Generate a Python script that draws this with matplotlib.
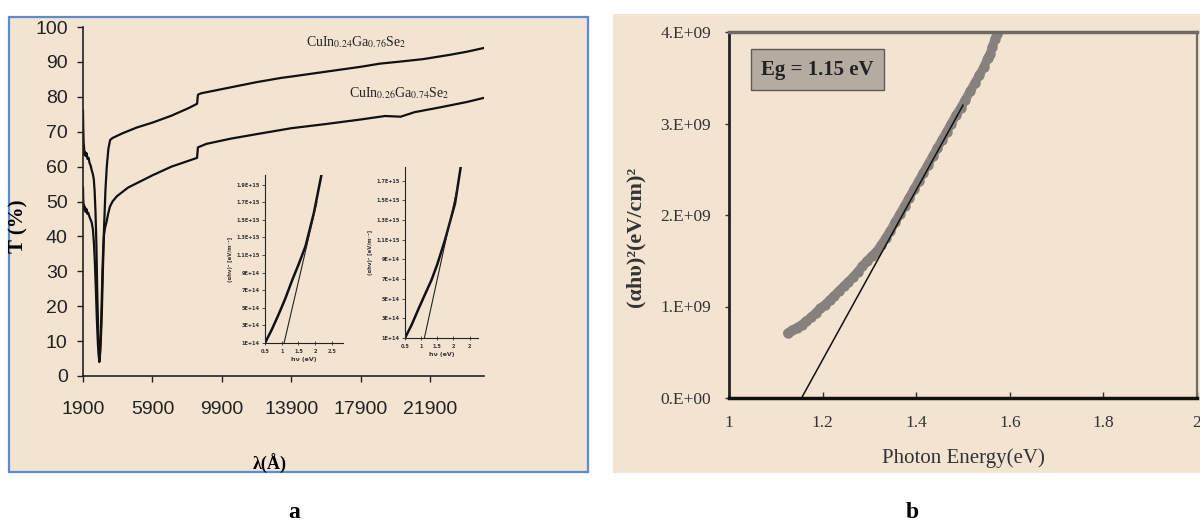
import matplotlib
matplotlib.use("Agg")
import matplotlib.pyplot as plt
from matplotlib.patches import Rectangle

# ---------------- data : panel a (transmission) ----------------
wl_upper = [1900, 1915, 1935, 1960, 1990, 2020, 2060, 2110, 2160, 2220, 2280, 2340, 2400,
            2460, 2520, 2570, 2620, 2670, 2730, 2790, 2840, 2890, 2940, 2990, 3050, 3110,
            3190, 3270, 3360, 3460, 3600, 4200, 5000, 5900, 7000, 8000, 8470, 8520, 8700,
            9900, 11900, 13300, 13900, 15900, 17900, 19000, 20000, 21500, 23000, 24000, 25000]
T_upper = [76, 71, 67, 65.5, 63.5, 64.2, 63, 63.8, 62.2, 62.5, 61, 60.3, 59,
           58, 56.5, 53, 47, 38, 22, 10, 4, 7, 12, 19, 31, 42,
           53, 60, 65, 67.6, 68.2, 69.6, 71.2, 72.6, 74.6, 76.8, 78.0, 80.6, 81.0,
           82.2, 84.2, 85.4, 85.8, 87.2, 88.6, 89.5, 90.0, 90.8, 92.0, 92.9, 94.0]

wl_lower = [1900, 1915, 1935, 1960, 1990, 2020, 2060, 2100, 2150, 2200, 2260, 2320, 2400,
            2470, 2530, 2580, 2640, 2700, 2760, 2820, 2870, 2920, 2970, 3020, 3070, 3110,
            3170, 3250, 3350, 3450, 3600, 3850, 4500, 5900, 7000, 8000, 8470, 8520, 9000,
            10400, 11900, 13900, 15900, 17900, 19300, 20200, 21000, 22500, 24000, 25000]
T_lower = [54, 50.5, 48.5, 49, 47.5, 48.3, 47, 47.8, 46.5, 46.8, 45.8, 45, 44,
           42, 38, 33, 25, 16, 9, 5, 5.5, 11, 20, 30, 37, 40.5,
           42.5, 44, 46.5, 48.5, 50, 51.5, 54, 57.5, 60, 61.7, 62.5, 65.5, 66.5,
           68, 69.3, 71, 72.2, 73.5, 74.5, 74.3, 75.6, 77, 78.5, 79.7]

a_xticks = [1900, 5900, 9900, 13900, 17900, 21900]
a_yticks = [0, 10, 20, 30, 40, 50, 60, 70, 80, 90, 100]

label_upper = r"CuIn$_{0.24}$Ga$_{0.76}$Se$_2$"
label_lower = r"CuIn$_{0.26}$Ga$_{0.74}$Se$_2$"

# inset 1
in1_x = [0.5, 0.7, 0.924, 1.1, 1.318, 1.5, 1.71, 1.96, 2.18]
in1_y = [1.0e14, 2.5e14, 4.4e14, 6.0e14, 8.2e14, 9.9e14, 1.2e15, 1.58e15, 2.0e15]
in1_fit_x = [1.07, 2.05]
in1_fit_y = [1.0e14, 1.7e15]
in1_yticks = [1e14, 3e14, 5e14, 7e14, 9e14, 1.1e15, 1.3e15, 1.5e15, 1.7e15, 1.9e15]
in1_ylabels = ["1E+14", "3E+14", "5E+14", "7E+14", "9E+14", "1.1E+15", "1.3E+15",
               "1.5E+15", "1.7E+15", "1.9E+15"]
in1_xticks = [0.5, 1, 1.5, 2, 2.5]
in1_xlabels = ["0.5", "1", "1.5", "2", "2.5"]

# inset 2
in2_x = [0.5, 0.7, 0.91, 1.1, 1.32, 1.5, 1.74, 2.05, 2.23]
in2_y = [1.0e14, 2.3e14, 3.9e14, 5.3e14, 6.9e14, 8.5e14, 1.1e15, 1.47e15, 1.85e15]
in2_fit_x = [1.1, 2.12]
in2_fit_y = [1.0e14, 1.63e15]
in2_yticks = [1e14, 3e14, 5e14, 7e14, 9e14, 1.1e15, 1.3e15, 1.5e15, 1.7e15]
in2_ylabels = ["1E+14", "3E+14", "5E+14", "7E+14", "9E+14", "1.1E+15", "1.3E+15",
               "1.5E+15", "1.7E+15"]
in2_xticks = [0.5, 1, 1.5, 2, 2.5]
in2_xlabels = ["0.5", "1", "1.5", "2", "2"]

# ---------------- data : panel b (Tauc plot) ----------------
E_b = [1.125, 1.135, 1.145, 1.155, 1.165, 1.175, 1.185, 1.195, 1.205, 1.215, 1.225,
       1.235, 1.245, 1.255, 1.265, 1.275, 1.285, 1.295, 1.305, 1.315, 1.325, 1.335,
       1.345, 1.355, 1.365, 1.375, 1.385, 1.395, 1.405, 1.415, 1.425, 1.435, 1.445,
       1.455, 1.465, 1.475, 1.485, 1.495, 1.505, 1.515, 1.525, 1.535, 1.545, 1.553,
       1.558, 1.563, 1.568, 1.573]
A_b = [0.71, 0.74, 0.77, 0.80, 0.84, 0.88, 0.93, 0.98, 1.02, 1.07, 1.12,
       1.17, 1.22, 1.27, 1.32, 1.38, 1.44, 1.50, 1.55, 1.60, 1.67, 1.75,
       1.83, 1.92, 2.01, 2.10, 2.19, 2.28, 2.37, 2.46, 2.55, 2.64, 2.73,
       2.82, 2.91, 3.00, 3.09, 3.17, 3.26, 3.35, 3.44, 3.53, 3.62, 3.72,
       3.76, 3.84, 3.92, 3.98]
A_b = [v * 1e9 for v in A_b]
fit_b_x = [1.155, 1.50]
fit_b_y = [0.0, 3.2e9]
b_xticks = [1, 1.2, 1.4, 1.6, 1.8, 2]
b_xlabels = ["1", "1.2", "1.4", "1.6", "1.8", "2"]
b_yticks = [0, 1e9, 2e9, 3e9, 4e9]
b_ylabels = ["0.E+00", "1.E+09", "2.E+09", "3.E+09", "4.E+09"]

# ---------------- figure ----------------
W, H = 1200, 524
fig = plt.figure(figsize=(W / 100, H / 100), dpi=100)
fig.patch.set_facecolor("white")

def box(x0, y0, x1, y1):
    return [x0 / W, 1 - y1 / H, (x1 - x0) / W, (y1 - y0) / H]

BG = "#f3e4d2"
SERIF = ["Liberation Serif", "DejaVu Serif"]
SANS = ["Liberation Sans", "DejaVu Sans"]
plt.rcParams["mathtext.fontset"] = "stix"

# panel backgrounds
fig.add_artist(Rectangle((9 / W, 1 - 472 / H), (588 - 9) / W, (472 - 17) / H,
                         transform=fig.transFigure, facecolor=BG, edgecolor="#5b8bd3",
                         lw=1.6, zorder=0))
fig.add_artist(Rectangle((613 / W, 1 - 473 / H), (1200 - 613) / W, (473 - 14) / H,
                         transform=fig.transFigure, facecolor=BG, edgecolor="none",
                         zorder=0))

# ---------------- panel a ----------------
ax = fig.add_axes(box(83, 27, 484, 376))
ax.set_facecolor("none")
ax.plot(wl_upper, T_upper, color="#111111", lw=1.6)
ax.plot(wl_lower, T_lower, color="#111111", lw=1.6)
ax.set_xlim(1900, 25000)
ax.set_ylim(0, 100)
ax.set_xticks(a_xticks)
ax.set_yticks(a_yticks)
for s in ["top", "right"]:
    ax.spines[s].set_visible(False)
for s in ["left", "bottom"]:
    ax.spines[s].set_color("#222222")
    ax.spines[s].set_linewidth(1.2)
ax.tick_params(axis="both", direction="out", length=4, width=1, color="#222222",
               labelcolor="#222222")
ax.tick_params(axis="y", pad=7)
ax.tick_params(axis="x", pad=14)
for t in ax.get_xticklabels() + ax.get_yticklabels():
    t.set_fontfamily(SANS)
    t.set_fontsize(14)
ax.set_xlabel("λ(Å)", fontfamily=SERIF, fontweight="bold", fontsize=13)
ax.xaxis.set_label_coords(0.466, -0.222)
ax.set_ylabel("T (%)", fontfamily=SERIF, fontweight="bold", fontsize=15)
ax.yaxis.set_label_coords(-0.135, 0.43)
ax.text(14730, 95.7, label_upper, fontfamily=SERIF, fontsize=10, color="#222222",
        va="center")
ax.text(17220, 81.0, label_lower, fontfamily=SERIF, fontsize=10, color="#222222",
        va="center")

def inset(rect, xs, ys, fx, fy, xlim, ylim, yt, ylab, xt, xlab):
    ia = fig.add_axes(rect)
    ia.set_facecolor("none")
    ia.plot(xs, ys, color="#111111", lw=1.8)
    ia.plot(fx, fy, color="#222222", lw=0.8)
    ia.set_xlim(*xlim)
    ia.set_ylim(*ylim)
    ia.set_yticks(yt)
    ia.set_yticklabels(ylab)
    ia.set_xticks(xt)
    ia.set_xticklabels(xlab)
    for s in ["top", "right"]:
        ia.spines[s].set_visible(False)
    for s in ["left", "bottom"]:
        ia.spines[s].set_linewidth(0.8)
        ia.spines[s].set_color("#222222")
    ia.tick_params(axis="both", length=2, width=0.6, pad=2, labelsize=3.6,
                   colors="#333333")
    ia.tick_params(axis="x", direction="inout", length=3, pad=3)
    for t in ia.get_xticklabels() + ia.get_yticklabels():
        t.set_fontweight("bold")
    ia.set_xlabel("hν (eV)", fontsize=4.5, fontweight="bold", color="#333333", labelpad=2)
    ia.set_ylabel("(αhν)² [eV/m⁻²]", fontsize=3.8, fontweight="bold", color="#333333",
                  labelpad=2)
    return ia

inset(box(265, 175, 343, 343), in1_x, in1_y, in1_fit_x, in1_fit_y,
      (0.5, 2.83), (1e14, 2.01e15), in1_yticks, in1_ylabels, in1_xticks, in1_xlabels)
inset(box(405, 167, 478, 338), in2_x, in2_y, in2_fit_x, in2_fit_y,
      (0.5, 2.76), (1e14, 1.84e15), in2_yticks, in2_ylabels, in2_xticks, in2_xlabels)

# ---------------- panel b ----------------
bx = fig.add_axes(box(729, 32, 1197, 398))
bx.set_facecolor("none")
bx.plot(E_b, A_b, linestyle="-", lw=6.5, color="#8f8a85", solid_capstyle="round",
        solid_joinstyle="round")
bx.plot(E_b, A_b, linestyle="none", marker="o", markersize=7.5, color="#86817c",
        markeredgewidth=0)
bx.plot(fit_b_x, fit_b_y, color="#111111", lw=1.1)
bx.set_xlim(1, 2)
bx.set_ylim(0, 4e9)
bx.set_xticks(b_xticks)
bx.set_xticklabels(b_xlabels)
bx.set_yticks(b_yticks)
bx.set_yticklabels(b_ylabels)
bx.spines["top"].set_color("#6f6a64")
bx.spines["top"].set_linewidth(2.5)
bx.spines["right"].set_color("#6f6a64")
bx.spines["right"].set_linewidth(1.6)
bx.spines["left"].set_color("#222222")
bx.spines["left"].set_linewidth(2.0)
bx.spines["bottom"].set_color("#111111")
bx.spines["bottom"].set_linewidth(2.5)
bx.tick_params(axis="y", direction="out", length=3, width=1, pad=10, colors="#333333")
bx.tick_params(axis="x", direction="in", length=4, width=1, pad=12, colors="#333333")
for t in bx.get_xticklabels() + bx.get_yticklabels():
    t.set_fontfamily(SERIF)
    t.set_fontsize(12.5)
bx.set_xlabel("Photon Energy(eV)", fontfamily=SERIF, fontsize=15, color="#333333")
bx.xaxis.set_label_coords(0.5, -0.137)
bx.set_ylabel("(αhυ)²(eV/cm)²", fontfamily=SERIF, fontweight="bold", fontsize=16,
              color="#333333")
bx.yaxis.set_label_coords(-0.178, 0.44)
bx.text(0.189, 0.8975, "Eg = 1.15 eV", transform=bx.transAxes, fontfamily=SERIF,
        fontweight="bold", fontsize=15, color="#222222", ha="center", va="center",
        bbox=dict(boxstyle="square,pad=0.5", facecolor="#b4aca1", edgecolor="#5f5a55",
                  linewidth=1.0))

# panel letters
fig.text(294 / W, 1 - 513 / H, "a", fontfamily=SERIF, fontweight="bold", fontsize=17,
         ha="center", va="center")
fig.text(912 / W, 1 - 513 / H, "b", fontfamily=SERIF, fontweight="bold", fontsize=17,
         ha="center", va="center")

fig.savefig("out.png", dpi=100, facecolor="white")
